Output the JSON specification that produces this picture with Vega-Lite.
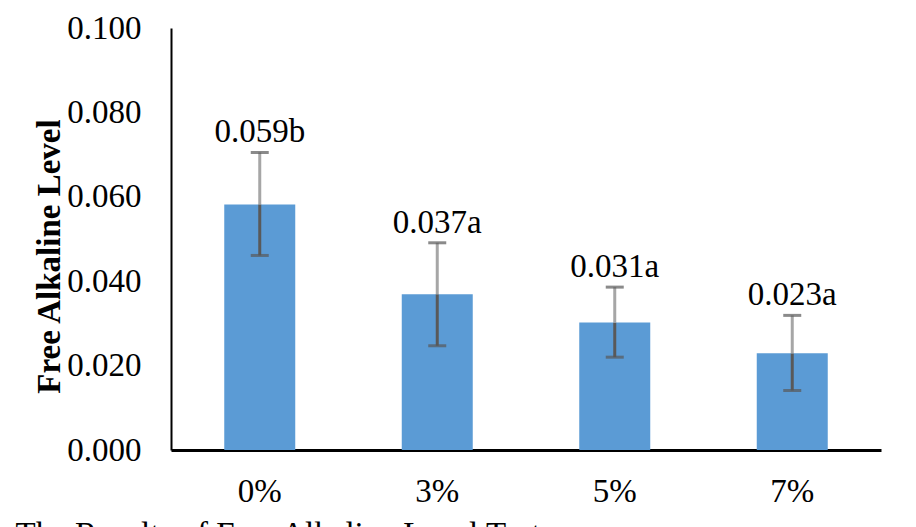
{
  "$schema": "https://vega.github.io/schema/vega-lite/v6.json",
  "width": 710,
  "height": 422,
  "autosize": "none",
  "padding": {"left": 171, "top": 28, "right": 35, "bottom": 77},
  "background": "white",
  "data": {
    "values": [
      {"conc": "0%", "value": 0.0582, "low": 0.0461, "high": 0.0705, "label": "0.059b"},
      {"conc": "3%", "value": 0.0369, "low": 0.0247, "high": 0.0491, "label": "0.037a"},
      {"conc": "5%", "value": 0.0302, "low": 0.0220, "high": 0.0386, "label": "0.031a"},
      {"conc": "7%", "value": 0.0229, "low": 0.0141, "high": 0.0319, "label": "0.023a"}
    ]
  },
  "encoding": {
    "x": {
      "field": "conc",
      "type": "nominal",
      "sort": null,
      "scale": {"paddingInner": 0, "paddingOuter": 0},
      "axis": {
        "title": "The Results of Free Alkaline Level Test",
        "titleAnchor": "start",
        "titleAlign": "left",
        "titleX": -156,
        "titleY": 94,
        "titleBaseline": "alphabetic",
        "titleFont": "Liberation Serif",
        "titleFontSize": 33,
        "titleFontWeight": "normal",
        "titleColor": "black",
        "labelAngle": 0,
        "labelFont": "Liberation Serif",
        "labelFontSize": 33,
        "labelColor": "black",
        "labelPadding": 25,
        "ticks": false,
        "tickSize": 0,
        "domainColor": "black",
        "domainWidth": 3
      }
    }
  },
  "layer": [
    {
      "mark": {"type": "bar", "color": "#5b9bd5", "width": {"band": 0.4}},
      "encoding": {
        "y": {
          "field": "value",
          "type": "quantitative",
          "scale": {"domain": [0, 0.1], "nice": false},
          "axis": {
            "title": "Free Alkaline Level",
            "titleFont": "Liberation Serif",
            "titleFontSize": 33,
            "titleFontWeight": "bold",
            "titleColor": "black",
            "titleX": -112,
            "titleY": 228,
            "titleBaseline": "alphabetic",
            "values": [0, 0.02, 0.04, 0.06, 0.08, 0.1],
            "format": ".3f",
            "grid": false,
            "ticks": false,
            "tickSize": 0,
            "labelPadding": 30,
            "labelFont": "Liberation Serif",
            "labelFontSize": 33,
            "labelColor": "black",
            "domainColor": "black",
            "domainWidth": 2
          }
        }
      }
    },
    {
      "mark": {"type": "rule", "color": "#595959", "strokeWidth": 3},
      "encoding": {
        "y": {"field": "low", "type": "quantitative"},
        "y2": {"field": "value"}
      }
    },
    {
      "mark": {"type": "rule", "color": "#a6a6a6", "strokeWidth": 3},
      "encoding": {
        "y": {"field": "value", "type": "quantitative"},
        "y2": {"field": "high"}
      }
    },
    {
      "mark": {"type": "tick", "color": "#595959", "size": 18, "thickness": 3},
      "encoding": {
        "y": {"field": "high", "type": "quantitative"}
      }
    },
    {
      "mark": {"type": "tick", "color": "#595959", "size": 18, "thickness": 3},
      "encoding": {
        "y": {"field": "low", "type": "quantitative"}
      }
    },
    {
      "mark": {
        "type": "text",
        "font": "Liberation Serif",
        "fontSize": 33,
        "color": "black",
        "baseline": "alphabetic",
        "dy": -10
      },
      "encoding": {
        "y": {"field": "high", "type": "quantitative"},
        "text": {"field": "label"}
      }
    }
  ],
  "config": {
    "view": {"stroke": null}
  }
}
